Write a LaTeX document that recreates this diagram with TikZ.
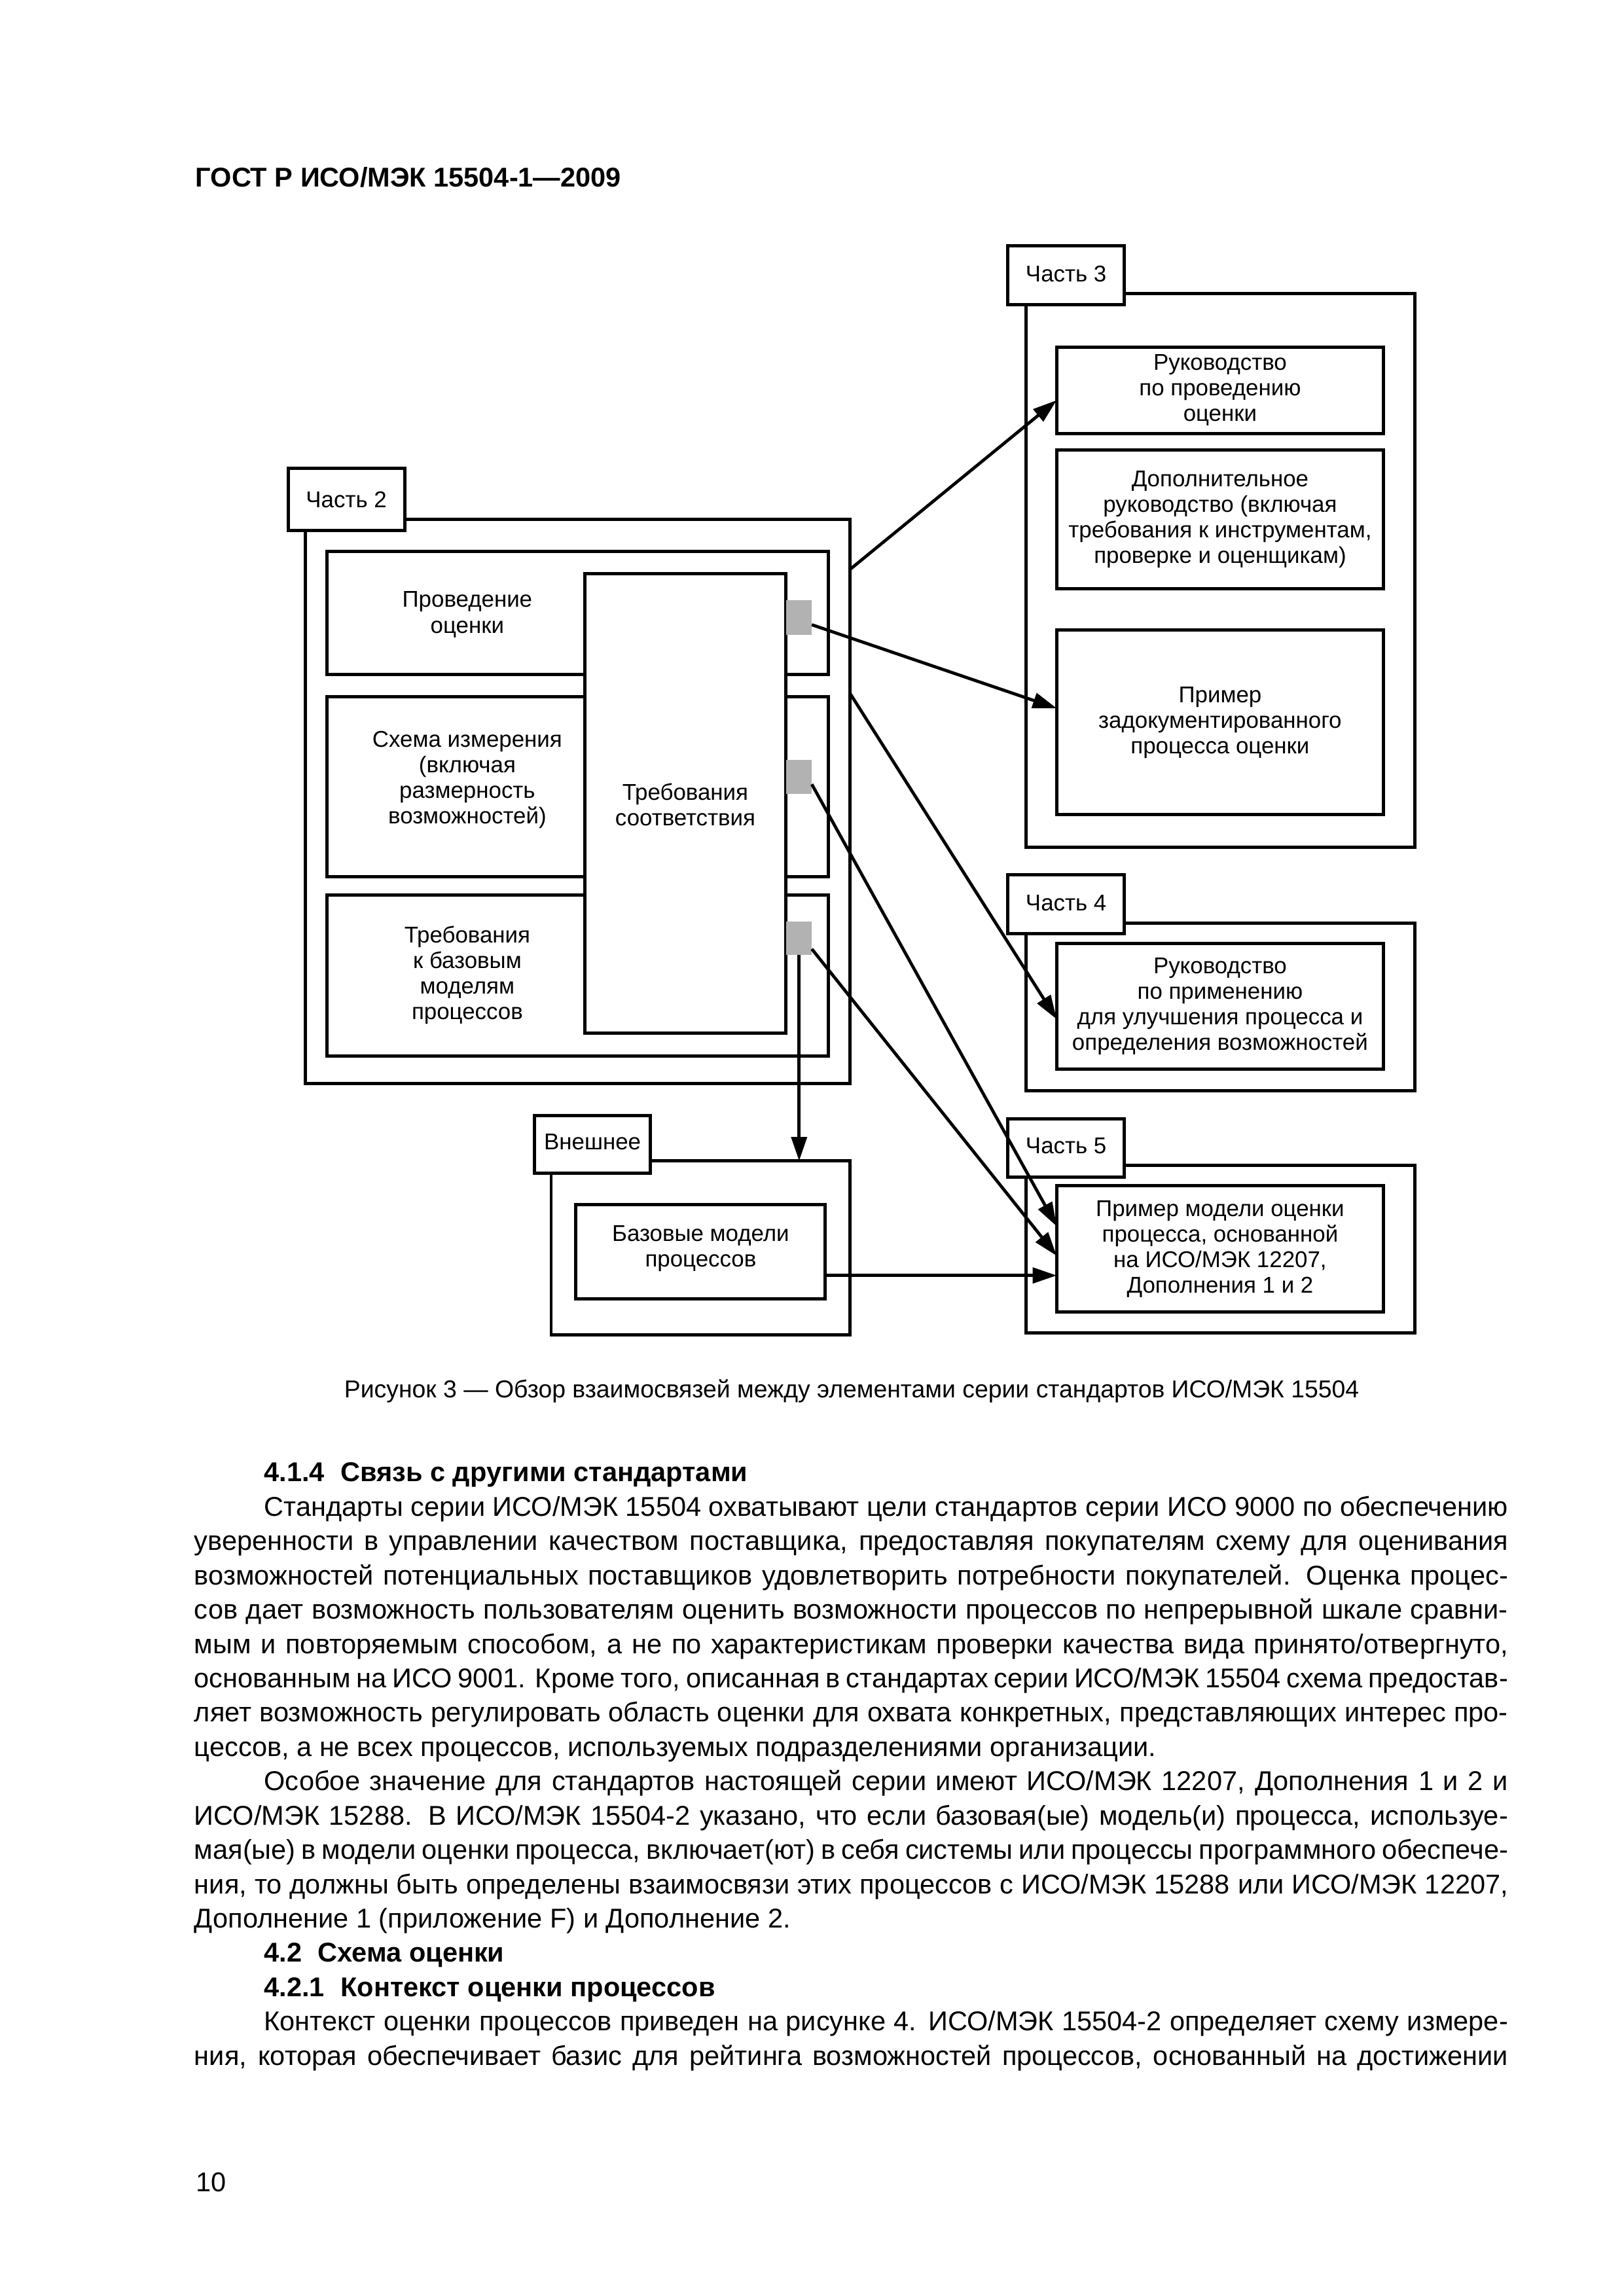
\documentclass[tikz,border=0pt]{standalone}
\usepackage{fontspec}
\setmainfont{Liberation Sans}
\usetikzlibrary{arrows.meta,fit,calc}
\definecolor{sqgrey}{RGB}{178,178,178}
\newcommand\mydg{\fontsize{8.4}{9.4}\selectfont}
\newcommand\mybody{\fontsize{10}{12}\selectfont\spaceskip=0.278em plus 3em minus 0.12em\relax}
\newcommand\myhead{\bfseries\fontsize{10}{12}\selectfont}
\newcommand\fullline[1]{\makebox[169.91mm][s]{#1}}
\newcommand\indline[1]{\makebox[160.88mm][s]{#1}}
\tikzset{
  bx/.style={draw, line width=1.2pt, inner sep=0pt, outer sep=0pt},
  wbx/.style={bx, fill=white},
  tabbx/.style={bx, fill=white},
  gsq/.style={fill=sqgrey, draw=none, inner sep=0pt, outer sep=0pt},
  lbl/.style={font=\mydg, align=center, inner sep=0pt},
  arr/.style={line width=1.15pt, -{Triangle[length=3.1mm,width=2.0mm]}},
  txt/.style={anchor=base west, inner sep=0pt, font=\mybody},
  hd/.style={anchor=base west, inner sep=0pt, font=\myhead},
}
\begin{document}
\begin{tikzpicture}[x=0.19091mm, y=-0.19091mm]
\useasboundingbox (0,0) rectangle (1100,1555.7);
\fill[white] (0,0) rectangle (1100,1555.7);

% header
\node[hd] (hdr) at (132.1,126.4) {ГОСТ Р ИСО/МЭК 15504-1—2009};

% ---------- Part 3 ----------
\node[bx, fit={(695.1,198.8) (958.7,574.2)}] (p3) {};
\node[bx, fit={(715.9,235.2) (937.3,293.8)}] (r1) {};
\node[lbl] (r1t) at (826.6,264.5) {Руководство\\по проведению\\оценки};
\node[bx, fit={(715.9,304.9) (937.3,398.7)}] (r2) {};
\node[lbl] (r2t) at (826.6,351.8) {Дополнительное\\руководство (включая\\требования к инструментам,\\проверке и оценщикам)};
\node[bx, fit={(715.9,426.9) (937.3,552.0)}] (r3) {};
\node[lbl] (r3t) at (826.6,489.5) {Пример\\задокументированного\\процесса оценки};
\node[tabbx, fit={(682.8,166.5) (761.7,206.5)}] (t3) {};
\node[lbl] (t3t) at (722.25,185.8) {Часть 3};

% ---------- Part 2 ----------
\node[bx, fit={(206.9,352.0) (576.0,734.2)}] (p2) {};
\node[bx, fit={(221.7,373.8) (561.2,457.0)}] (b1) {};
\node[bx, fit={(221.7,472.0) (561.2,593.9)}] (b2) {};
\node[bx, fit={(221.7,606.6) (561.2,715.5)}] (b3) {};
\node[lbl] (b1t) at (316.6,416.4) {Проведение\\оценки};
\node[lbl] (b2t) at (316.6,528.5) {Схема измерения\\(включая\\размерность\\возможностей)};
\node[lbl] (b3t) at (316.6,660.5) {Требования\\к базовым\\моделям\\процессов};
\node[wbx, fit={(396.3,388.8) (532.2,700.1)}] (tr) {};
\node[lbl] (trt) at (464.3,545.0) {Требования\\соответствия};
\node[gsq, fit={(532.8,406.5) (550.0,430.0)}] (sq1) {};
\node[gsq, fit={(532.8,514.8) (550.0,538.1)}] (sq2) {};
\node[gsq, fit={(532.8,624.5) (550.0,647.0)}] (sq3) {};
\node[tabbx, fit={(195.2,317.5) (274.1,359.5)}] (t2) {};
\node[lbl] (t2t) at (234.65,338.5) {Часть 2};

% ---------- Part 4 ----------
\node[bx, fit={(695.1,625.3) (958.7,739.0)}] (p4) {};
\node[bx, fit={(715.9,639.1) (937.3,724.6)}] (r4) {};
\node[lbl] (r4t) at (826.6,681.9) {Руководство\\по применению\\для улучшения процесса и\\определения возможностей};
\node[tabbx, fit={(682.8,592.5) (761.7,632.5)}] (t4) {};
\node[lbl] (t4t) at (722.25,611.8) {Часть 4};

% ---------- External ----------
\node[bx, fit={(373.4,786.6) (576.0,904.5)}] (pe) {};
\node[bx, fit={(390.2,816.4) (559.2,880.0)}] (bm) {};
\node[lbl] (bmt) at (474.7,846.0) {Базовые модели\\процессов};
\node[tabbx, fit={(362.2,756.0) (440.6,795.0)}] (te) {};
\node[lbl] (tet) at (401.4,773.5) {Внешнее};

% ---------- Part 5 ----------
\node[bx, fit={(695.1,789.7) (958.7,903.0)}] (p5) {};
\node[bx, fit={(715.9,803.4) (937.3,889.0)}] (r5) {};
\node[lbl] (r5t) at (826.6,846.2) {Пример модели оценки\\процесса, основанной\\на ИСО/МЭК 12207,\\Дополнения 1 и 2};
\node[tabbx, fit={(682.8,758.0) (761.7,797.5)}] (t5) {};
\node[lbl] (t5t) at (722.25,776.3) {Часть 5};

% ---------- connectors ----------
\draw[arr] (p2.east |- 0,385.7) -- (r1.west |- 0,271.2);
\draw[arr] (sq1.east |- 0,423.3) -- (r3.west |- 0,479.9);
\draw[arr] (p2.east |- 0,470.0) -- (r4.west |- 0,690.6);
\draw[arr] (sq2.east |- 0,531.4) -- (r5.west |- 0,830.9);
\draw[arr] (sq3.east |- 0,643.0) -- (r5.west |- 0,850.9);
\draw[arr] (sq3.south) -- (sq3.south |- pe.north);
\draw[arr] (bm.east |- 0,864.2) -- (r5.west |- 0,864.2);

% caption
\node[anchor=base, inner sep=0pt, font=\fontsize{9}{11}\selectfont] (cap) at (577,947) {Рисунок 3 — Обзор взаимосвязей между элементами серии стандартов ИСО/МЭК 15504};

% ---------- body text ----------
\node[hd] (h1) at (178.6,1004.0) {4.1.4\hspace{1.1mm} Связь с другими стандартами};
\node[txt] (l1) at (178.6,1027.25) {\indline{Стандарты серии ИСО/МЭК 15504 охватывают цели стандартов серии ИСО 9000 по обеспечению}};
\node[txt] (l2) at (131.3,1050.5) {\fullline{уверенности в управлении качеством поставщика, предоставляя покупателям схему для оценивания}};
\node[txt] (l3) at (131.3,1073.75) {\fullline{возможностей потенциальных поставщиков удовлетворить потребности покупателей. Оценка процес-}};
\node[txt] (l4) at (131.3,1097.0) {\fullline{сов дает возможность пользователям оценить возможности процессов по непрерывной шкале сравни-}};
\node[txt] (l5) at (131.3,1120.25) {\fullline{мым и повторяемым способом, а не по характеристикам проверки качества вида принято/отвергнуто,}};
\node[txt] (l6) at (131.3,1143.5) {\fullline{основанным на ИСО 9001. Кроме того, описанная в стандартах серии ИСО/МЭК 15504 схема предостав-}};
\node[txt] (l7) at (131.3,1166.75) {\fullline{ляет возможность регулировать область оценки для охвата конкретных, представляющих интерес про-}};
\node[txt] (l8) at (131.3,1190.0) {цессов, а не всех процессов, используемых подразделениями организации.};
\node[txt] (l9) at (178.6,1213.25) {\indline{Особое значение для стандартов настоящей серии имеют ИСО/МЭК 12207, Дополнения 1 и 2 и}};
\node[txt] (l10) at (131.3,1236.5) {\fullline{ИСО/МЭК 15288. В ИСО/МЭК 15504-2 указано, что если базовая(ые) модель(и) процесса, используе-}};
\node[txt] (l11) at (131.3,1259.75) {\fullline{мая(ые) в модели оценки процесса, включает(ют) в себя системы или процессы программного обеспече-}};
\node[txt] (l12) at (131.3,1283.0) {\fullline{ния, то должны быть определены взаимосвязи этих процессов с ИСО/МЭК 15288 или ИСО/МЭК 12207,}};
\node[txt] (l13) at (131.3,1306.25) {Дополнение 1 (приложение F) и Дополнение 2.};
\node[hd] (h2) at (178.6,1329.5) {4.2\hspace{1.1mm} Схема оценки};
\node[hd] (h3) at (178.6,1352.75) {4.2.1\hspace{1.1mm} Контекст оценки процессов};
\node[txt] (l14) at (178.6,1376.0) {\indline{Контекст оценки процессов приведен на рисунке 4. ИСО/МЭК 15504-2 определяет схему измере-}};
\node[txt] (l15) at (131.3,1399.25) {\fullline{ния, которая обеспечивает базис для рейтинга возможностей процессов, основанный на достижении}};
\node[txt] (pg) at (132.3,1485.0) {10};
\end{tikzpicture}
\end{document}
